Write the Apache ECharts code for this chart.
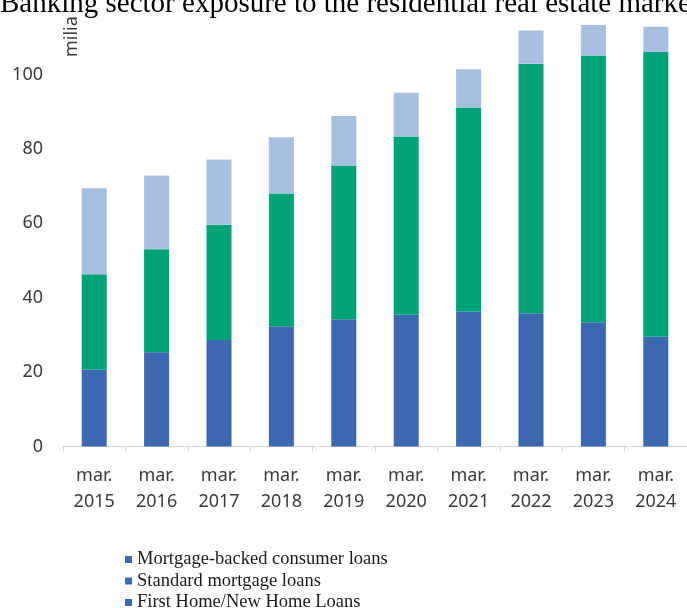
<!DOCTYPE html>
<html>
<head>
<meta charset="utf-8">
<script src="https://cdn.jsdelivr.net/npm/echarts@6/dist/echarts.min.js"></script>
<style>
  html, body { margin: 0; padding: 0; background: #ffffff; }
  #chart { width: 687px; height: 608px; }
</style>
</head>
<body>
<div id="chart"></div>
<script>
// Categories (March of each year)
var categories = ['mar.\n2015', 'mar.\n2016', 'mar.\n2017', 'mar.\n2018', 'mar.\n2019',
                  'mar.\n2020', 'mar.\n2021', 'mar.\n2022', 'mar.\n2023', 'mar.\n2024'];

// Stacked segments, billions (milia)
var firstHomeLoans      = [20.6, 25.3, 28.6, 32.3, 34.2, 35.4, 36.3, 35.8, 33.4, 29.5];
var standardMortgage    = [25.7, 27.7, 31.0, 35.7, 41.3, 47.9, 54.8, 67.1, 71.7, 76.5];
var mortgageBackedCons  = [23.1, 19.8, 17.5, 15.1, 13.3, 11.8, 10.3,  8.9,  8.2,  6.8];

var seriesNames = ['Mortgage-backed consumer loans', 'Standard mortgage loans', 'First Home/New Home Loans'];
var yTicks = [0, 20, 40, 60, 80, 100];

var chart = echarts.init(document.getElementById('chart'), null, { renderer: 'canvas' });

var labelFont = 'Noto Sans';
var legendBlue = '#3c67b1';

chart.setOption({
  animation: false,
  backgroundColor: '#ffffff',
  title: {
    text: 'Banking sector exposure to the residential real estate market',
    left: 0,
    top: -10,
    padding: 0,
    textStyle: { fontFamily: 'Liberation Serif', fontSize: 29, fontWeight: 'normal', color: '#000000' }
  },
  graphic: [{
    type: 'text',
    x: 63,
    y: 57,
    rotation: Math.PI / 2,
    style: { text: 'milia', font: '18px "Noto Sans"', fill: '#3a3a3a' }
  }],
  legend: {
    orient: 'vertical',
    left: 125,
    top: 550,
    height: 70,
    itemWidth: 7,
    itemHeight: 7,
    itemGap: 2.5,
    icon: 'rect',
    padding: 0,
    textStyle: { fontFamily: 'Liberation Serif', fontSize: 18.5, lineHeight: 18.5, color: '#1a1a1a' },
    data: seriesNames.map(function (n) { return { name: n, itemStyle: { color: legendBlue } }; })
  },
  grid: { left: 63, width: 629, top: 446.5 - 120 * 3.81, height: 120 * 3.81, containLabel: false },
  xAxis: {
    type: 'category',
    data: categories,
    boundaryGap: true,
    axisLine: { show: true, lineStyle: { color: '#d4d4d4', width: 1 } },
    axisTick: { show: true, length: 5, alignWithLabel: false, lineStyle: { color: '#d4d4d4' } },
    axisLabel: {
      interval: 0, margin: 16,
      fontFamily: labelFont, fontSize: 18, lineHeight: 26, color: '#3a3a3a'
    }
  },
  yAxis: {
    type: 'value',
    min: 0, max: 120, interval: 20,
    axisLine: { show: false },
    axisTick: { show: false },
    splitLine: { show: false },
    axisLabel: {
      margin: 20, fontFamily: labelFont, fontSize: 18, color: '#3a3a3a',
      formatter: function (v) { return yTicks.indexOf(v) >= 0 ? String(v) : ''; }
    }
  },
  series: [
    { name: seriesNames[2], type: 'bar', stack: 'total', barWidth: 25,
      itemStyle: { color: '#3c67b1' }, data: firstHomeLoans },
    { name: seriesNames[1], type: 'bar', stack: 'total', barWidth: 25,
      itemStyle: { color: '#00a278' }, data: standardMortgage },
    { name: seriesNames[0], type: 'bar', stack: 'total', barWidth: 25,
      itemStyle: { color: '#a7c0e2' }, data: mortgageBackedCons }
  ]
});
</script>
</body>
</html>
